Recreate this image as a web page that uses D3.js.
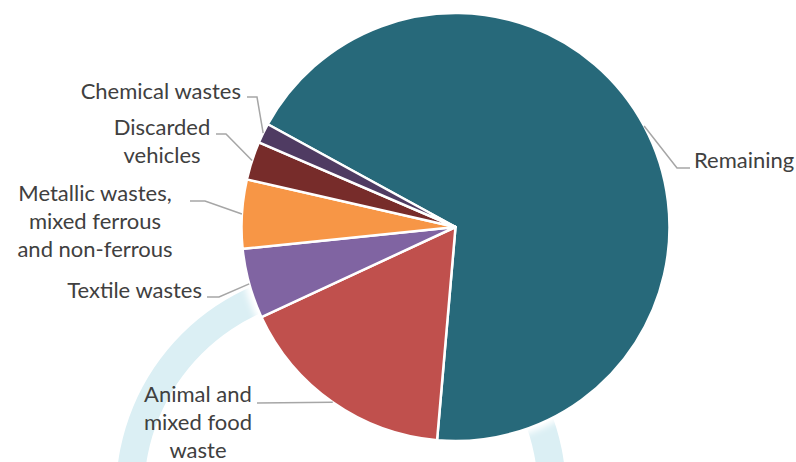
<!DOCTYPE html>
<html>
<head>
<meta charset="utf-8">
<script src="https://cdn.jsdelivr.net/npm/d3@7"></script>
<style>
  html, body { margin: 0; padding: 0; background: #ffffff; }
  svg { display: block; }
  text { font-family: Lato, "Open Sans", sans-serif; fill: #404040; }
</style>
</head>
<body>
<svg id="chart"></svg>
<script>
// waste shares (percent), clockwise from the top-left
var categories = ["Remaining", "Animal and mixed food waste", "Textile wastes",
                  "Metallic wastes, mixed ferrous and non-ferrous", "Discarded vehicles", "Chemical wastes"];
var shares = [68.4, 16.7, 5.3, 5.2, 2.9, 1.5];
var labelLines = [
    ["Remaining"],
    ["Animal and", "mixed food", "waste"],
    ["Textile wastes"],
    ["Metallic wastes,", "mixed ferrous", "and non-ferrous"],
    ["Discarded", "vehicles"],
    ["Chemical wastes"]
];
var colors = ["#27697a", "#c0504d", "#8064a2", "#f79646", "#772c2a", "#4f3b62"];

// label placement (text anchor, first line centre, leader end + elbow)
var labelPos = [
    {x: 694, y: 160, anchor: "start",  end: [690, 168], elbow: [677, 168]},
    {x: 198, y: 394, anchor: "middle", end: [257, 403], elbow: [257, 403]},
    {x: 202, y: 290, anchor: "end",    end: [207, 297], elbow: [219, 297]},
    {x: 95,  y: 193, anchor: "middle", end: [190, 201], elbow: [205, 201]},
    {x: 162, y: 127, anchor: "middle", end: [216, 134], elbow: [226, 134]},
    {x: 241, y: 91,  anchor: "end",    end: [247, 97],  elbow: [257, 97]}
];

var width = 796, height = 462;
var cx = 455.5, cy = 227, radius = 214;
var lineHeight = 28;

var svg = d3.select("#chart").attr("width", width).attr("height", height);

var defs = svg.append("defs");
defs.append("filter").attr("id", "glow")
    .attr("x", "-20%").attr("y", "-20%").attr("width", "140%").attr("height", "140%")
    .append("feGaussianBlur").attr("stdDeviation", 3);

// decorative background ring
svg.append("path")
    .attr("transform", "translate(341,493)")
    .attr("d", d3.arc().innerRadius(197).outerRadius(225).startAngle(0).endAngle(2 * Math.PI)())
    .style("fill", "#dbeff4");

var g = svg.append("g").attr("transform", "translate(" + cx + "," + cy + ")");

// soft white halo round the pie
g.append("circle")
    .attr("r", radius + 5)
    .style("fill", "#ffffff")
    .attr("filter", "url(#glow)");

var startA = -61.3 * Math.PI / 180;
var pie = d3.pie().sort(null).value(function(d) { return d; })
    .startAngle(startA).endAngle(startA + 2 * Math.PI);
var arcs = pie(shares);

var arc = d3.arc().innerRadius(0).outerRadius(radius);

g.selectAll("path.slice")
    .data(arcs)
    .enter().append("path")
    .attr("class", "slice")
    .attr("d", arc)
    .style("fill", function(d, i) { return colors[i]; })
    .style("stroke", "#ffffff")
    .style("stroke-width", "2.5px")
    .style("stroke-linejoin", "round");

// leader lines
arcs.forEach(function(d, i) {
    var mid = (d.startAngle + d.endAngle) / 2;
    var px = cx + radius * Math.sin(mid);
    var py = cy - radius * Math.cos(mid);
    var p = labelPos[i];
    svg.append("polyline")
        .attr("points", [p.end, p.elbow, [px, py]].map(function(q) { return q.join(","); }).join(" "))
        .style("fill", "none")
        .style("stroke", "#a6a6a6")
        .style("stroke-width", "1.5px");
});

// labels
labelLines.forEach(function(lines, i) {
    var p = labelPos[i];
    var t = svg.append("text")
        .attr("text-anchor", p.anchor)
        .style("font-size", "22px");
    lines.forEach(function(line, j) {
        t.append("tspan")
            .attr("x", p.x)
            .attr("y", p.y + j * lineHeight)
            .attr("dy", "0.35em")
            .text(line);
    });
});
</script>
</body>
</html>
